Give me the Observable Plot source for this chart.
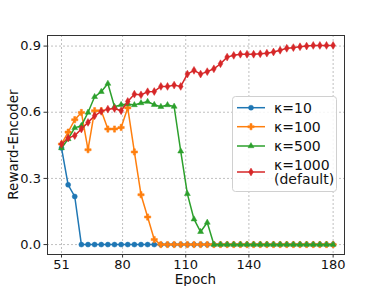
<!DOCTYPE html>
<html><head><meta charset="utf-8">
<script src="https://cdn.jsdelivr.net/npm/d3@7"></script>
<script src="https://cdn.jsdelivr.net/npm/@observablehq/plot@0.6"></script>
<style>body{margin:0;background:#fff;} #chart{position:relative;width:382px;height:286px;}</style>
</head><body><div id="chart"></div>
<script>
const epochs = [51, 54.15, 57.29, 60.44, 63.59, 66.73, 69.88, 73.02, 76.17, 79.32, 82.46, 85.61, 88.76, 91.9, 95.05, 98.2, 101.34, 104.49, 107.63, 110.78, 113.93, 117.07, 120.22, 123.37, 126.51, 129.66, 132.8, 135.95, 139.1, 142.24, 145.39, 148.54, 151.68, 154.83, 157.98, 161.12, 164.27, 167.41, 170.56, 173.71, 176.85, 180];
const xTicks = [51, 80, 110, 140, 180];
const yTicks = [0, 0.3, 0.6, 0.9];
const xLabel = "Epoch";
const yLabel = "Reward-Encoder";
const seriesNames = ["κ=10", "κ=100", "κ=500", "κ=1000|(default)"];
const k10 = [0.438, 0.271, 0.218, 0, 0, 0, 0, 0, 0, 0, 0, 0, 0, 0, 0, 0, 0, 0, 0, 0, 0, 0, 0, 0, 0, 0, 0, 0, 0, 0, 0, 0, 0, 0, 0, 0, 0, 0, 0, 0, 0, 0];
const k100 = [0.456, 0.51, 0.566, 0.599, 0.43, 0.607, 0.607, 0.524, 0.524, 0.531, 0.62, 0.42, 0.226, 0.125, 0.023, 0, 0, 0, 0, 0, 0, 0, 0, 0, 0, 0, 0, 0, 0, 0, 0, 0, 0, 0, 0, 0, 0, 0, 0, 0, 0, 0];
const k500 = [0.438, 0.479, 0.529, 0.539, 0.599, 0.67, 0.693, 0.73, 0.625, 0.634, 0.637, 0.633, 0.642, 0.648, 0.634, 0.625, 0.633, 0.626, 0.423, 0.23, 0.115, 0.058, 0.1, 0, 0, 0, 0, 0, 0, 0, 0, 0, 0, 0, 0, 0, 0, 0, 0, 0, 0, 0];
const k1000 = [0.455, 0.483, 0.494, 0.524, 0.554, 0.584, 0.604, 0.614, 0.617, 0.607, 0.649, 0.682, 0.679, 0.693, 0.694, 0.717, 0.717, 0.723, 0.717, 0.773, 0.79, 0.773, 0.784, 0.797, 0.82, 0.85, 0.858, 0.863, 0.863, 0.863, 0.865, 0.868, 0.873, 0.881, 0.89, 0.893, 0.897, 0.9, 0.903, 0.903, 0.903, 0.903];

const colors = ["#1f77b4", "#ff7f0e", "#2ca02c", "#d62728"];

const symFilledPlus = {draw(ctx, size) {
  const r = Math.sqrt(size / Math.PI), h = r * 1.25, t = h / 3;
  ctx.moveTo(-t, -h); ctx.lineTo(t, -h); ctx.lineTo(t, -t); ctx.lineTo(h, -t);
  ctx.lineTo(h, t); ctx.lineTo(t, t); ctx.lineTo(t, h); ctx.lineTo(-t, h);
  ctx.lineTo(-t, t); ctx.lineTo(-h, t); ctx.lineTo(-h, -t); ctx.lineTo(-t, -t); ctx.closePath();
}};
const symThinDiamond = {draw(ctx, size) {
  const r = Math.sqrt(size / Math.PI), h = r * 1.4, w = h * 0.6;
  ctx.moveTo(0, -h); ctx.lineTo(w, 0); ctx.lineTo(0, h); ctx.lineTo(-w, 0); ctx.closePath();
}};
const symbols = ["circle", symFilledPlus, "triangle", symThinDiamond];
const radii = [2.5, 2.5, 2.2, 2.8];

const allSeries = [k10, k100, k500, k1000];
const tables = allSeries.map((vals, s) => epochs.map((e, i) => ({epoch: e, value: vals[i], series: seriesNames[s]})));

const marks = [
  Plot.gridX(xTicks, {stroke: "#b0b0b0", strokeOpacity: 0.8, strokeDasharray: "2,2"}),
  Plot.gridY(yTicks, {stroke: "#b0b0b0", strokeOpacity: 0.8, strokeDasharray: "2,2"}),
];
tables.forEach((t, s) => {
  marks.push(Plot.line(t, {x: "epoch", y: "value", stroke: colors[s], strokeWidth: 1.5}));
  marks.push(Plot.dot(t, {x: "epoch", y: "value", fill: colors[s], stroke: colors[s], strokeWidth: 0.5, symbol: symbols[s], r: radii[s]}));
});
marks.push(Plot.axisX(xTicks, {tickSize: 3.5, tickPadding: 2, stroke: "#333", fill: "#111", fontSize: 13, label: null}));
marks.push(Plot.axisY(yTicks, {tickSize: 3.5, tickPadding: 3, stroke: "#333", fill: "#111", fontSize: 13,
  tickFormat: d3.format(".1f"), label: null}));
marks.push(Plot.frame({stroke: "#333", strokeWidth: 1}));

const chart = Plot.plot({
  width: 382, height: 286,
  marginLeft: 47, marginRight: 38, marginTop: 35, marginBottom: 32,
  style: {fontFamily: "DejaVu Sans", fontSize: "13px", background: "#fff", color: "#111"},
  x: {domain: [44.35, 185.4], label: null},
  y: {domain: [-0.045, 0.948], label: null},
  marks
});
document.getElementById("chart").appendChild(chart);

const svg = d3.select(chart);
// axis labels
svg.append("text").attr("x", 195.5).attr("y", 279).attr("dy", "0.35em")
  .attr("text-anchor", "middle").attr("font-family", "DejaVu Sans").attr("font-size", 13.5).attr("fill", "#111").text(xLabel);
svg.append("text").attr("transform", "translate(13,144.5) rotate(-90)").attr("dy", "0.35em")
  .attr("text-anchor", "middle").attr("font-family", "DejaVu Sans").attr("font-size", 13.5).attr("fill", "#111").text(yLabel);

// legend
const lg = svg.append("g").attr("font-family", "DejaVu Sans").attr("font-size", 14).attr("text-anchor", "start");
lg.append("rect").attr("x", 232.5).attr("y", 96.5).attr("width", 104).attr("height", 95).attr("rx", 3)
  .attr("fill", "#fff").attr("fill-opacity", 0.85).attr("stroke", "#d0d0d0");
const rowY = [107.7, 126.7, 146, 172];
seriesNames.forEach((name, s) => {
  const y = rowY[s];
  lg.append("line").attr("x1", 237).attr("x2", 265).attr("y1", y).attr("y2", y)
    .attr("stroke", colors[s]).attr("stroke-width", 1.5);
  const sym = typeof symbols[s] === "string" ? (symbols[s] === "circle" ? d3.symbolCircle : d3.symbolTriangle) : symbols[s];
  lg.append("path").attr("transform", `translate(251,${y})`)
    .attr("d", d3.symbol(sym, radii[s] * radii[s] * Math.PI)())
    .attr("fill", colors[s]).attr("stroke", colors[s]).attr("stroke-width", 0.5);
  const lines = name.split("|");
  lines.forEach((ln, j) => {
    const ty = lines.length === 1 ? y : y - 7.2 + j * 14.4;
    lg.append("text").attr("x", 274).attr("y", ty).attr("dy", "0.35em").attr("fill", "#111").text(ln);
  });
});
</script>
</body></html>
